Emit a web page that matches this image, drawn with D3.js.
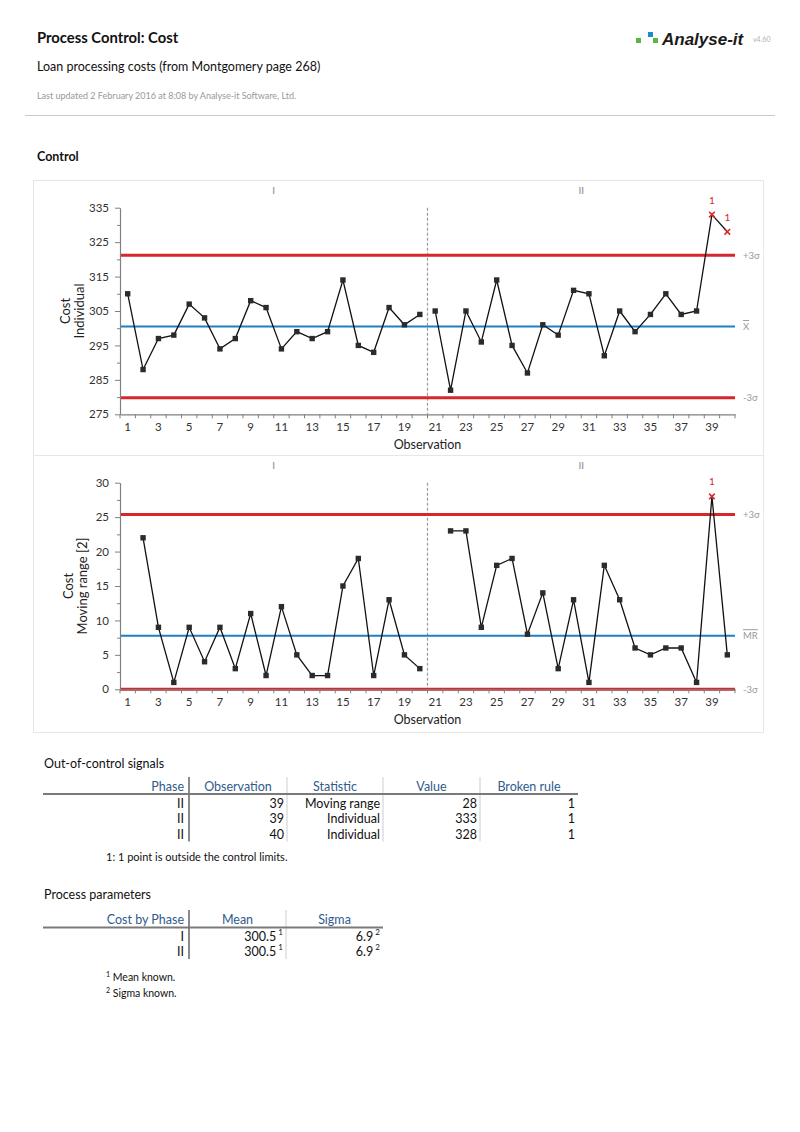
<!DOCTYPE html>
<html>
<head>
<meta charset="utf-8">
<script src="https://cdn.jsdelivr.net/npm/d3@7"></script>
<style>
    body { margin: 0; background: #fff; }
    svg text { font-family: Lato, 'Open Sans', sans-serif; }
</style>
</head>
<body>
<div class="report"></div>
<script>
// observations 1..40, phase I = 1-20, phase II = 21-40
const observations = d3.range(1, 41);
const phases = observations.map(d => (d <= 20 ? 'I' : 'II'));
const phaseNames = ['I', 'II'];

// loan processing cost
const costs = [310, 288, 297, 298, 307, 303, 294, 297, 308, 306,
               294, 299, 297, 299, 314, 295, 293, 306, 301, 304,
               305, 282, 305, 296, 314, 295, 287, 301, 298, 311,
               310, 292, 305, 299, 304, 310, 304, 305, 333, 328];

// moving range [2], first point of each phase has none
const movingRanges = [null, 22, 9, 1, 9, 4, 9, 3, 11, 2,
                      12, 5, 2, 2, 15, 19, 2, 13, 5, 3,
                      null, 23, 23, 9, 18, 19, 8, 14, 3, 13,
                      1, 18, 13, 6, 5, 6, 6, 1, 28, 5];

// control lines: -3σ, centre, +3σ
const individualLimits = [279.8, 300.5, 321.2];
const movingRangeLimits = [0, 7.78, 25.4];
const limitNames = ['-3σ', 'centre', '+3σ'];

const individualTicks = [275, 285, 295, 305, 315, 325, 335];
const individualMinor = [280, 290, 300, 310, 320, 330];
const movingRangeTicks = [0, 5, 10, 15, 20, 25, 30];
const movingRangeMinor = [2.5, 7.5, 12.5, 17.5, 22.5, 27.5];
const xTickLabels = [1, 3, 5, 7, 9, 11, 13, 15, 17, 19, 21, 23, 25, 27, 29, 31, 33, 35, 37, 39];

// points that broke rule 1
const individualSignals = [39, 40];
const movingRangeSignals = [39];

// out-of-control signals table
const signalHeaders = ['Phase', 'Observation', 'Statistic', 'Value', 'Broken rule'];
const signalPhase = ['II', 'II', 'II'];
const signalObservation = [39, 39, 40];
const signalStatistic = ['Moving range', 'Individual', 'Individual'];
const signalValue = [28, 333, 328];
const signalRule = [1, 1, 1];

// process parameters table
const paramHeaders = ['Cost by Phase', 'Mean', 'Sigma'];
const paramPhase = ['I', 'II'];
const paramMean = ['300.5', '300.5'];
const paramSigma = ['6.9', '6.9'];

const RED = '#d7262c';
const BLUE = '#1f7fc1';
const HEAD_BLUE = '#2f5b8d';

const svg = d3.select('.report').append('svg')
    .attr('width', 800).attr('height', 1132);

// ---------- header ----------
function drawHeader() {
    svg.append('text').attr('x', 37).attr('y', 43)
        .text('Process Control: Cost')
        .style('font-size', '14.8px').style('font-weight', 'bold').style('fill', '#111');
    svg.append('text').attr('x', 37).attr('y', 71)
        .text('Loan processing costs (from Montgomery page 268)')
        .style('font-size', '12.5px').style('fill', '#111');
    svg.append('text').attr('x', 37).attr('y', 99)
        .text('Last updated 2 February 2016 at 8:08 by Analyse-it Software, Ltd.')
        .style('font-size', '9px').style('fill', '#999');
    svg.append('line').attr('x1', 25).attr('x2', 775).attr('y1', 115.5).attr('y2', 115.5)
        .style('stroke', '#c8c8c8');
    svg.append('text').attr('x', 37).attr('y', 161)
        .text('Control')
        .style('font-size', '12.5px').style('font-weight', 'bold').style('fill', '#111');

    // logo
    const logo = svg.append('g').attr('class', 'logo');
    logo.append('rect').attr('x', 636).attr('y', 38).attr('width', 5).attr('height', 5).style('fill', '#5cb646');
    logo.append('rect').attr('x', 648).attr('y', 32).attr('width', 5).attr('height', 5).style('fill', '#1b8ad6');
    logo.append('rect').attr('x', 653).attr('y', 38).attr('width', 5).attr('height', 5).style('fill', '#5cb646');
    logo.append('text').attr('x', 662).attr('y', 44.5).text('Analyse-it')
        .style('font-family', "'Liberation Sans', Arial, sans-serif")
        .style('font-size', '17px').style('font-weight', 'bold').style('font-style', 'italic')
        .style('fill', '#1a1a1a');
    logo.append('text').attr('x', 753).attr('y', 42).text('v4.60')
        .style('font-size', '7px').style('fill', '#b0b0b0');
}

// ---------- control chart panel ----------
function drawPanel(opt) {
    const g = svg.append('g').attr('class', 'panel');
    g.append('rect')
        .attr('x', 33.5).attr('y', opt.boxTop + 0.5)
        .attr('width', 730).attr('height', opt.boxHeight)
        .style('fill', 'none').style('stroke', '#e6e6e6');

    const x = d3.scaleBand().domain(observations).range([120, 735]);
    const y = d3.scaleLinear().domain(opt.domain).range([opt.plotBottom, opt.plotTop]);
    const cx = d => x(d) + x.bandwidth() / 2;

    // phase labels
    g.selectAll('.phase-label').data(phaseNames).enter()
        .append('text')
        .attr('class', 'phase-label')
        .attr('x', p => {
            const obs = observations.filter((d, i) => phases[i] === p);
            return (x(obs[0]) + x(obs[obs.length - 1]) + x.bandwidth()) / 2;
        })
        .attr('y', opt.plotTop - 18)
        .attr('text-anchor', 'middle')
        .style('dominant-baseline', 'central')
        .style('font-size', '10px').style('fill', '#8a8a8a')
        .text(d => d);

    // phase divider
    const firstOfII = observations.find((d, i) => phases[i] === 'II');
    g.append('line')
        .attr('x1', x(firstOfII)).attr('x2', x(firstOfII))
        .attr('y1', opt.plotTop).attr('y2', opt.plotBottom)
        .style('stroke', '#999').style('stroke-width', 1.2).style('stroke-dasharray', '3,2');

    // control lines
    g.selectAll('.limit').data(opt.limits).enter()
        .append('line')
        .attr('class', 'limit')
        .attr('x1', 120).attr('x2', 735)
        .attr('y1', d => y(d)).attr('y2', d => y(d))
        .style('stroke', (d, i) => (limitNames[i] === 'centre' ? BLUE : RED))
        .style('stroke-width', (d, i) => (limitNames[i] === 'centre' ? 2 : 3));

    g.selectAll('.limit-label').data(opt.limits).enter()
        .append('text')
        .attr('class', 'limit-label')
        .attr('x', 743)
        .attr('y', d => y(d))
        .style('dominant-baseline', 'central')
        .style('font-size', '9.5px').style('fill', '#9a9a9a')
        .style('text-decoration', (d, i) => (limitNames[i] === 'centre' ? 'overline' : 'none'))
        .text((d, i) => (limitNames[i] === 'centre' ? opt.centreLabel : limitNames[i]));

    // axes
    const yAxis = d3.axisLeft(y).tickValues(opt.ticks).tickSizeInner(5).tickSizeOuter(0).tickPadding(6);
    const yg = g.append('g').attr('class', 'y axis').attr('transform', 'translate(120,0)').call(yAxis);
    const ym = g.append('g').attr('transform', 'translate(120,0)')
        .call(d3.axisLeft(y).tickValues(opt.minor).tickSize(3).tickFormat(''));
    ym.select('.domain').remove();

    const xAxis = d3.axisBottom(x).tickValues(xTickLabels).tickSize(0).tickPadding(9).tickSizeOuter(0);
    const xg = g.append('g').attr('class', 'x axis')
        .attr('transform', `translate(0,${opt.plotBottom})`).call(xAxis);
    xg.selectAll('.band-tick').data(observations.concat([null])).enter()
        .append('line')
        .attr('class', 'band-tick')
        .attr('x1', d => (d === null ? 735 : x(d))).attr('x2', d => (d === null ? 735 : x(d)))
        .attr('y1', 0).attr('y2', 4)
        .style('stroke', '#808080');

    [yg, ym, xg].forEach(a => {
        a.selectAll('.domain, line').style('stroke', '#808080');
        a.selectAll('text').style('font-size', '11.5px').style('fill', '#333')
            .style('font-family', 'Lato, sans-serif');
    });
    yg.select('.domain').style('stroke-width', 1.2);
    xg.select('.domain').style('stroke-width', 1.2);

    g.append('text')
        .attr('x', 427.5).attr('y', opt.plotBottom + 30)
        .attr('text-anchor', 'middle').style('dominant-baseline', 'central')
        .style('font-size', '12.5px').style('fill', '#222')
        .text('Observation');

    const yc = (opt.plotTop + opt.plotBottom) / 2;
    opt.titles.forEach((t, i) => {
        g.append('text')
            .attr('transform', `translate(${opt.titleX[i]},${yc}) rotate(-90)`)
            .attr('text-anchor', 'middle').style('dominant-baseline', 'central')
            .style('font-size', '13px').style('fill', '#222')
            .text(t);
    });

    // series, one line per phase
    const points = observations.map((d, i) => ({ obs: d, phase: phases[i], value: opt.values[i] }));
    const lineGen = d3.line()
        .defined(d => d.value !== null)
        .x(d => cx(d.obs))
        .y(d => y(d.value));

    g.selectAll('.series').data(phaseNames).enter()
        .append('path')
        .attr('class', 'series')
        .attr('d', p => lineGen(points.filter(d => d.phase === p)))
        .style('fill', 'none').style('stroke', '#111').style('stroke-width', 1.3);

    const valid = points.filter(d => d.value !== null);
    g.selectAll('.point').data(valid.filter(d => opt.signals.indexOf(d.obs) < 0)).enter()
        .append('rect')
        .attr('class', 'point')
        .attr('x', d => cx(d.obs) - 2.7).attr('y', d => y(d.value) - 2.7)
        .attr('width', 5.4).attr('height', 5.4)
        .style('fill', '#2b2b2b');

    const sig = valid.filter(d => opt.signals.indexOf(d.obs) >= 0);
    g.selectAll('.signal').data(sig).enter()
        .append('path')
        .attr('class', 'signal')
        .attr('d', d => {
            const px = cx(d.obs), py = y(d.value), s = 2.8;
            return `M${px - s},${py - s}L${px + s},${py + s}M${px - s},${py + s}L${px + s},${py - s}`;
        })
        .style('stroke', RED).style('stroke-width', 1.6);
    g.selectAll('.signal-label').data(sig).enter()
        .append('text')
        .attr('class', 'signal-label')
        .attr('x', d => cx(d.obs)).attr('y', d => y(d.value) - 15)
        .attr('text-anchor', 'middle').style('dominant-baseline', 'central')
        .style('font-size', '10px').style('fill', RED)
        .text('1');
}

// ---------- tables ----------
function drawTable(opt) {
    const g = svg.append('g').attr('class', 'table');
    g.append('text').attr('x', 44).attr('y', opt.titleY)
        .style('dominant-baseline', 'central').style('font-size', '12.5px').style('fill', '#111')
        .text(opt.title);

    const edges = opt.edges;
    const nCols = edges.length - 1;

    // separators
    for (let c = 1; c < nCols; c++) {
        g.append('line')
            .attr('x1', edges[c]).attr('x2', edges[c])
            .attr('y1', opt.headerY - 9).attr('y2', opt.rowYs[opt.rowYs.length - 1] + 8)
            .style('stroke', c === 1 ? '#6e6e6e' : '#dcdcdc')
            .style('stroke-width', c === 1 ? 1.6 : 1.4);
    }
    g.append('line')
        .attr('x1', edges[0]).attr('x2', edges[nCols])
        .attr('y1', opt.lineY).attr('y2', opt.lineY)
        .style('stroke', '#7a7a7a').style('stroke-width', 1.8);

    g.selectAll('.head').data(opt.headers).enter()
        .append('text')
        .attr('class', 'head')
        .attr('x', (d, i) => (i === 0 ? edges[1] - 5 : (edges[i] + edges[i + 1]) / 2))
        .attr('y', opt.headerY)
        .attr('text-anchor', (d, i) => (i === 0 ? 'end' : 'middle'))
        .style('dominant-baseline', 'central')
        .style('font-size', '12.5px').style('fill', HEAD_BLUE)
        .text(d => d);

    opt.columns.forEach((col, c) => {
        g.selectAll(`.cell-${c}`).data(col).enter()
            .append('text')
            .attr('x', edges[c + 1] - (c === 0 ? 5 : 3))
            .attr('y', (d, r) => opt.rowYs[r])
            .attr('text-anchor', 'end')
            .style('dominant-baseline', 'central')
            .style('font-size', '12.5px').style('fill', '#111')
            .each(function(d) {
                const t = d3.select(this);
                t.append('tspan').text(d);
                if (opt.marks && opt.marks[c]) {
                    t.append('tspan').text(' ' + opt.marks[c])
                        .attr('dy', -4).style('font-size', '8px');
                }
            });
    });

    opt.notes.forEach((n, i) => {
        const t = g.append('text').attr('x', 106).attr('y', opt.noteYs[i])
            .style('dominant-baseline', 'central').style('font-size', opt.noteSize).style('fill', '#111');
        if (n.mark) {
            t.append('tspan').text(n.mark).attr('dy', -3).style('font-size', '7px');
            t.append('tspan').text(' ' + n.text).attr('dy', 3);
        } else {
            t.text(n.text);
        }
    });
}

// main
drawHeader();

drawPanel({
    boxTop: 180, boxHeight: 275,
    plotTop: 207.7, plotBottom: 414.3,
    domain: [275, 335], ticks: individualTicks, minor: individualMinor,
    values: costs, limits: individualLimits, centreLabel: 'X',
    signals: individualSignals,
    titles: ['Cost', 'Individual'], titleX: [65, 79]
});

drawPanel({
    boxTop: 455, boxHeight: 277,
    plotTop: 482.7, plotBottom: 689.3,
    domain: [0, 30], ticks: movingRangeTicks, minor: movingRangeMinor,
    values: movingRanges, limits: movingRangeLimits, centreLabel: 'MR',
    signals: movingRangeSignals,
    titles: ['Cost', 'Moving range [2]'], titleX: [68, 82]
});

drawTable({
    title: 'Out-of-control signals', titleY: 763,
    edges: [43, 189, 287, 383, 480, 578],
    headers: signalHeaders,
    headerY: 786, lineY: 794, rowYs: [802.5, 818, 833.5],
    columns: [signalPhase, signalObservation, signalStatistic, signalValue, signalRule],
    notes: [{ text: '1: 1 point is outside the control limits.' }],
    noteYs: [856], noteSize: '11px'
});

drawTable({
    title: 'Process parameters', titleY: 894,
    edges: [43, 189, 286, 383],
    headers: paramHeaders,
    headerY: 919, lineY: 927.5, rowYs: [935.5, 951],
    columns: [paramPhase, paramMean, paramSigma],
    marks: [null, '1', '2'],
    notes: [{ mark: '1', text: 'Mean known.' }, { mark: '2', text: 'Sigma known.' }],
    noteYs: [977, 993], noteSize: '10.5px'
});
</script>
</body>
</html>
